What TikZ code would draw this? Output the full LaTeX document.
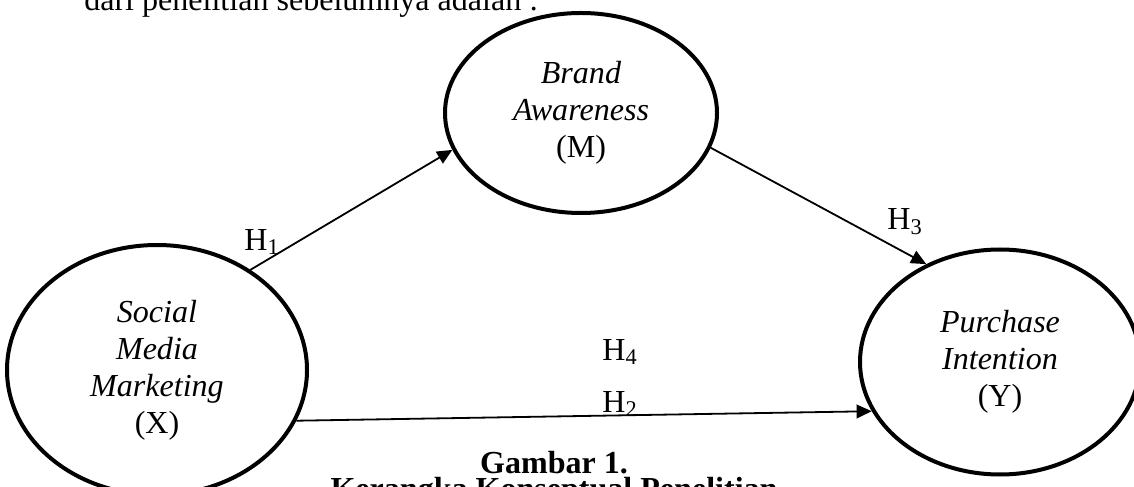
\documentclass[tikz,border=0pt]{standalone}
\usepackage{fontspec}
\setmainfont{Liberation Serif}
\usepackage{tikz}
\usetikzlibrary{shapes.geometric, arrows.meta, positioning}

\begin{document}
\begin{tikzpicture}[
    construct/.style={draw, ellipse, line width=0.1cm, inner sep=0pt,
        align=center, font=\fontsize{22.8}{26.3}\selectfont},
    hyp/.style={inner sep=1pt, font=\fontsize{22.8}{26.3}\selectfont},
    caption/.style={inner sep=0pt, font=\fontsize{22.8}{26.3}\selectfont},
    link/.style={-{Triangle[length=0.38cm, width=0.34cm]}, line width=0.045cm},
    >=Stealth
]
    \useasboundingbox (0,0) rectangle (28.35,12.15);
    \clip (0,0) rectangle (28.35,12.15);

    \node[caption, anchor=base west] (intro) at (2.1,11.88) {dari penelitian sebelumnya adalah :};

    \node[construct, minimum width=6.8cm, minimum height=5cm] (M) at (14.525,9.325)
        {\textit{Brand}\\\textit{Awareness}\\(M)};
    \node[construct, minimum width=7.5cm, minimum height=6.25cm] (X) at (3.925,2.9)
        {\textit{Social}\\\textit{Media}\\\textit{Marketing}\\(X)};
    \node[construct, minimum width=7cm, minimum height=5.625cm] (Y) at (25,3.1)
        {\textit{Purchase}\\\textit{Intention}\\(Y)};

    \draw[link] (X.47.6) -- (M.196.2);
    \draw[link] (M.-15.7) -- (Y.127);
    \draw[link] (X.-20.7) -- (Y.201.4);

    \node[hyp] (h1) at (6.55,6.1) {H\textsubscript{1}};
    \node[hyp] (h3) at (22.625,6.6) {H\textsubscript{3}};
    \node[hyp] (h4) at (15.5,3.35) {H\textsubscript{4}};
    \node[hyp] (h2) at (15.5,2.05) {H\textsubscript{2}};

    \node[caption, anchor=base, font=\fontsize{22.8}{26.3}\selectfont\bfseries] (cap1) at (13.85,0.325) {Gambar 1.};
    \node[caption, anchor=base, font=\fontsize{22.8}{26.3}\selectfont\bfseries] (cap2) at (13.85,-0.325) {Kerangka Konseptual Penelitian};
\end{tikzpicture}
\end{document}
